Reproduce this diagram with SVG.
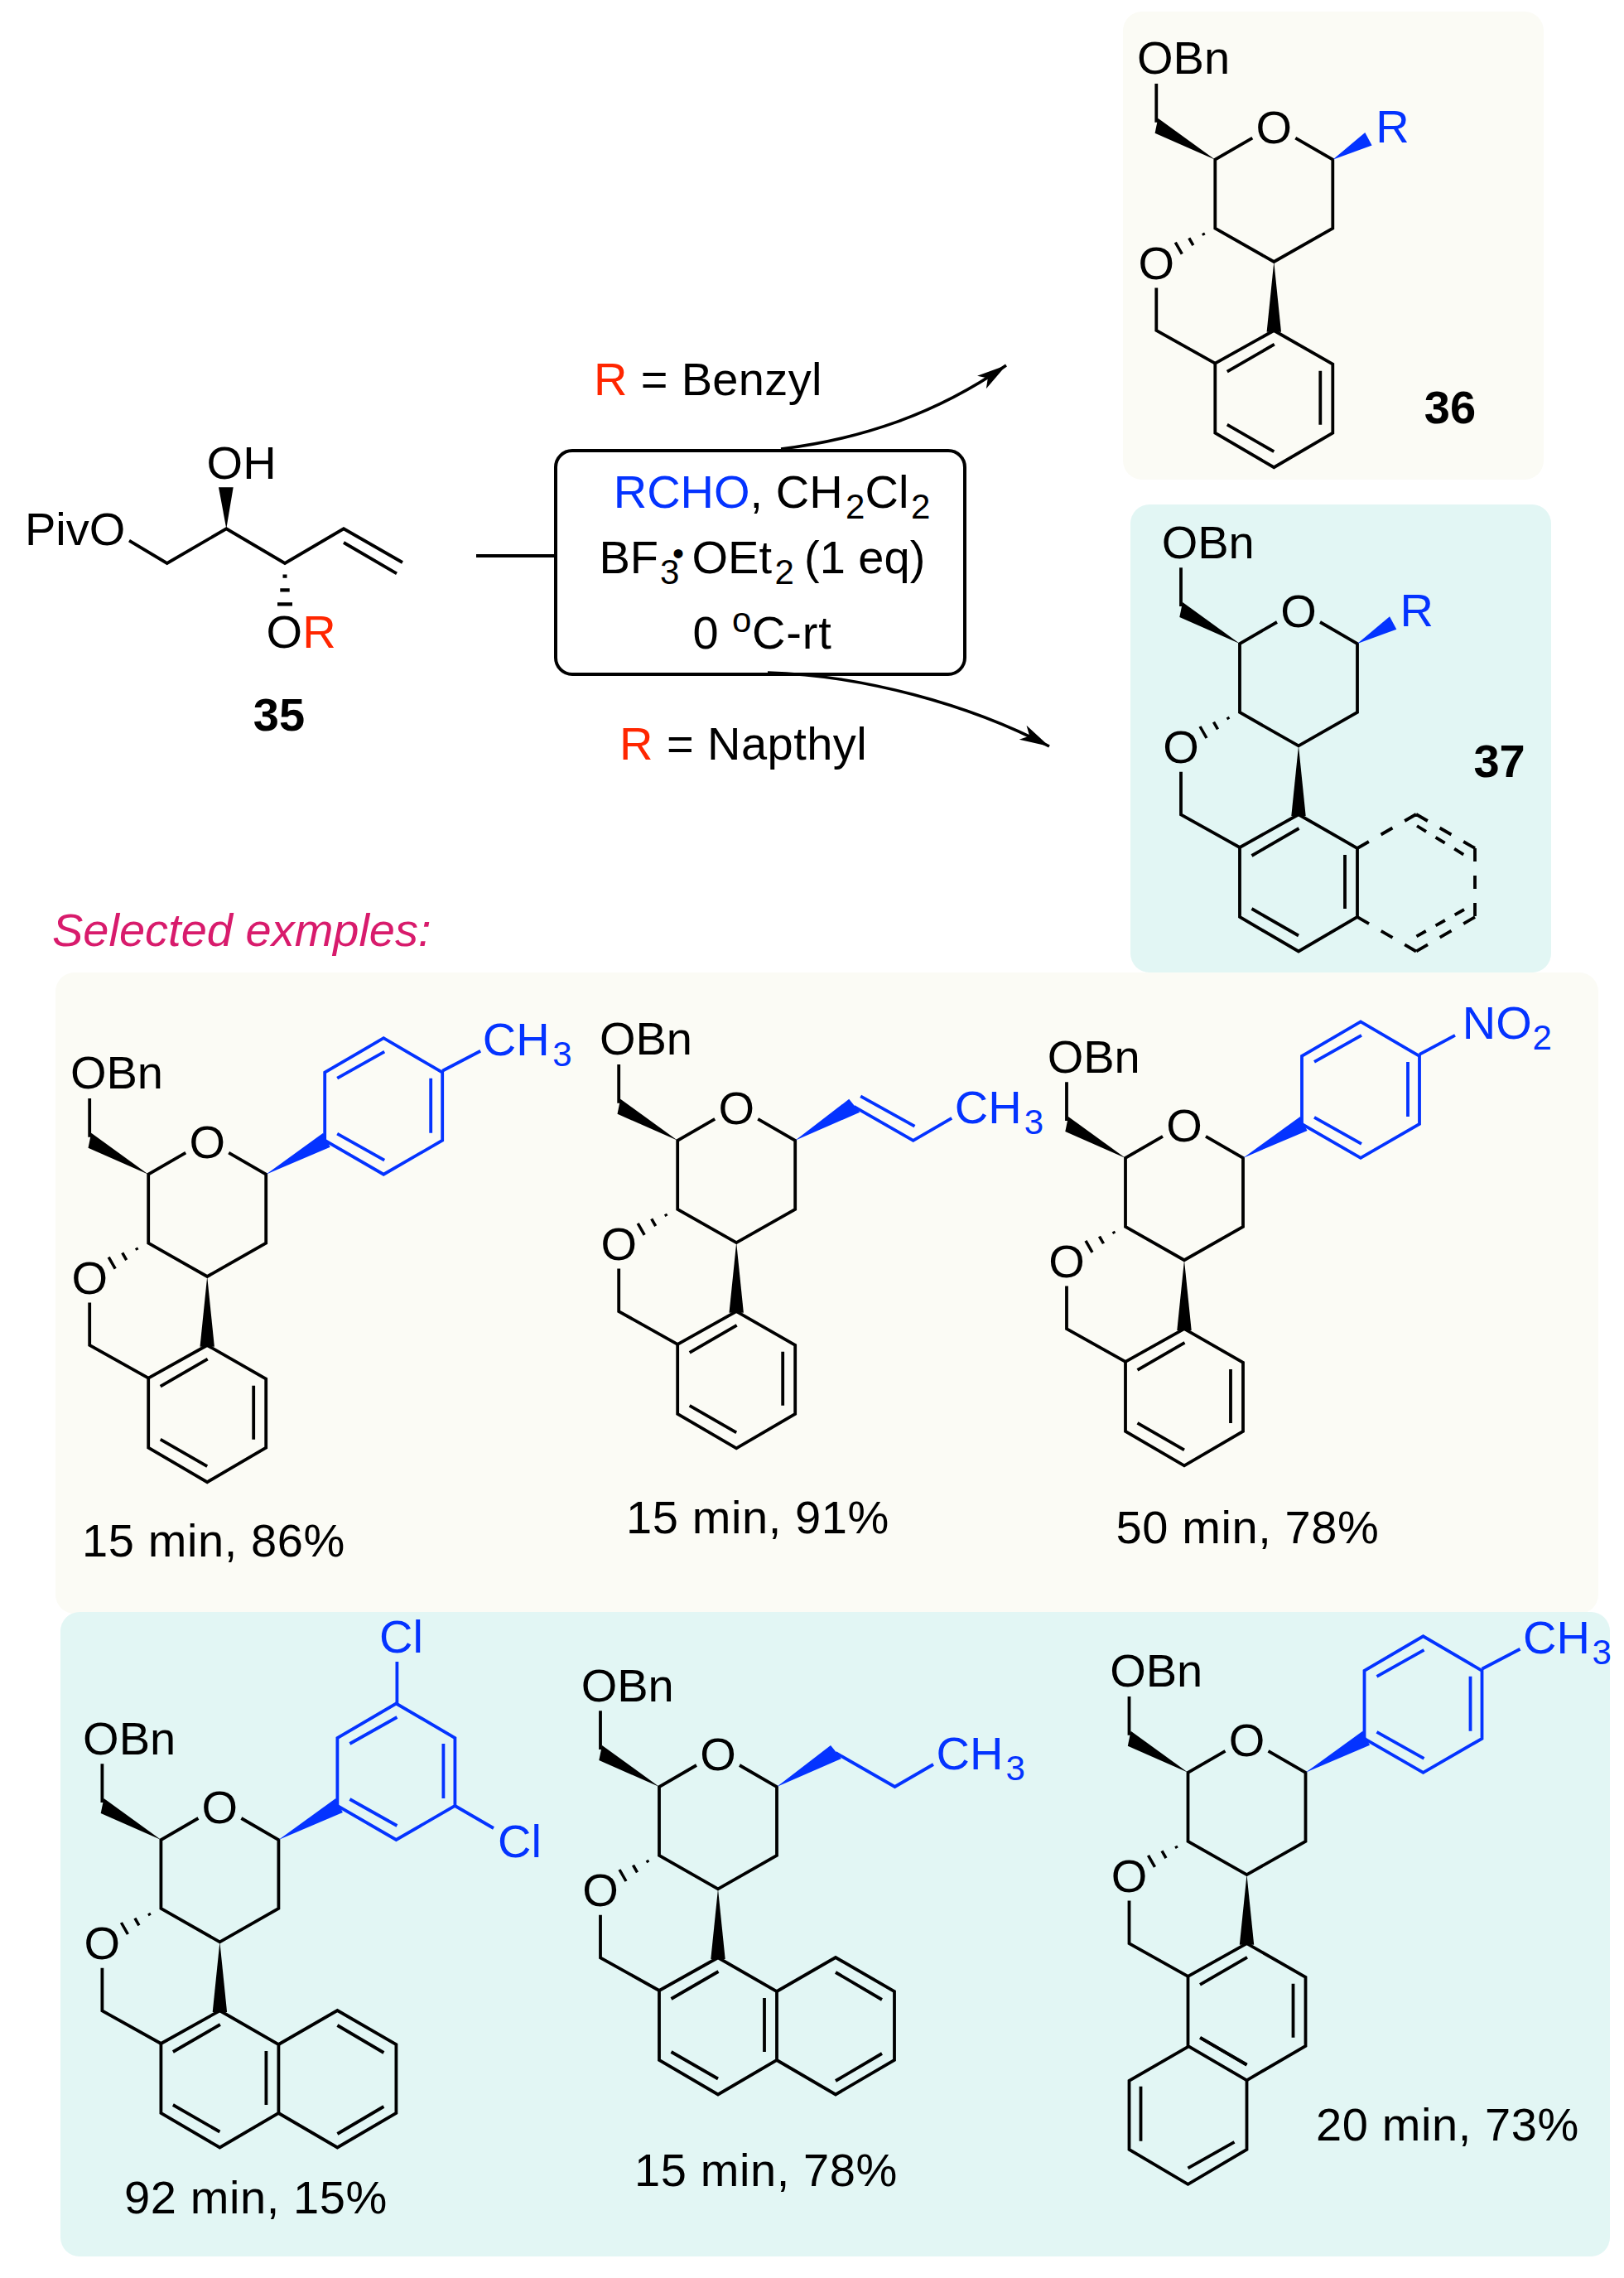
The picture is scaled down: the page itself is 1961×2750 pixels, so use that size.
<svg xmlns="http://www.w3.org/2000/svg" xmlns:xlink="http://www.w3.org/1999/xlink" width="1961" height="2750" viewBox="0 0 1961 2750">
<style>
text{font-family:"Liberation Sans",Arial,sans-serif;font-size:56px;fill:#000}
.b{font-weight:bold}
.sub{font-size:42px}
.blue,text.blue,tspan.blue{fill:#0433ff}
.red{fill:#ff2600}
.m{text-anchor:middle}
.ls{letter-spacing:.6px}
.bond{fill:none;stroke:#000;stroke-width:3.8;stroke-linejoin:miter;stroke-linecap:butt}
.bbond{fill:none;stroke:#0433ff;stroke-width:3.8;stroke-linejoin:miter}
.hash{fill:none;stroke:#000;stroke-width:3.5}
.wk{fill:#000;stroke:none}
.wb{fill:#0433ff;stroke:none}
.cy{fill:#fbfbf5}
.cb{fill:#e2f6f4}
.dash{fill:none;stroke:#000;stroke-width:3.8;stroke-dasharray:16 17}
.dash2{fill:none;stroke:#000;stroke-width:3.8;stroke-dasharray:13 13.5}
.arrow{fill:none;stroke:#000;stroke-width:3.5;marker-end:url(#head)}
</style>
<defs>
<marker id="head" markerUnits="userSpaceOnUse" markerWidth="40" markerHeight="24" refX="36" refY="10" orient="auto" overflow="visible"><path d="M36,10 L0,0.5 L9,10 L0,19.5 Z" fill="#000"/></marker>
<g id="core">
<path class="bond" d="M45,-26 L0,0 V83 L71,123.3 L142,83 V0 L97,-26 M-71,-45 V-91.7 M-71,154.7 V206.3 L0,246"/>
<path class="bond" d="M0,246 L71,206.3 L142,247 V330 L71,371.5 L0,330 Z M14.5,256 L71.5,223 M127,255 V320 M14.5,320 L71,352.5"/>
<polygon class="wk" points="0,0 -69,-50 -72.7,-32"/>
<polygon class="wk" points="71,123.3 62.3,208 79.7,208"/>
<path class="hash" d="M-14.75,88.7 L-13.25,91.3 M-31.5,94.65 L-26.5,103.35 M-48,100 L-40,114"/>
</g>
<g id="aryl">
<path class="bbond" d="M213,-41 V-123 L284,-164.5 L355,-123 V-41 L284,0 Z M228,-116 L285,-148 M341,-116 V-50 M228,-49 L285,-17"/>
<polygon class="wb" points="142,0 211,-50 219.5,-33"/>
</g>
<path id="naph" class="bond" d="M142,247 L213,206 L284,247 V330 L213,371.5 L142,330 M213,224 L269,257 M269,322 L213,355"/>
<g id="chain">
<path class="bbond" d="M213,-41 L284.5,0 L331,-27"/>
<polygon class="wb" points="142,0 207,-50 220,-34"/>
</g>
</defs>

<g id="cards">
<rect class="cy" x="1356" y="14" width="508" height="565" rx="23"/>
<rect class="cb" x="1365" y="609" width="508" height="565" rx="23"/>
<rect class="cy" x="67" y="1174" width="1878" height="774" rx="23" style="width:1863px"/>
<rect class="cb" x="73" y="1946" width="1871" height="778" rx="23"/>
</g>

<g id="connectors">
<line class="bond" x1="575" y1="671" x2="671" y2="671"/>
<path class="arrow" d="M943,542 C1040,530 1130,500 1215,441"/>
<path class="arrow" d="M927,812 C1040,815 1170,850 1267,901"/>
</g>

<g id="compound-35">
<path class="bond" d="M156,652.7 L201.7,680 L273.3,638.3 L344,680 L415,638.3 L486,679 M415,655 L479,692.3"/>
<polygon class="wk" points="273.3,638.3 264,588.3 281.7,588.3"/>
<path class="bond" style="stroke-width:4.3" d="M341.5,695.7 H346.5 M338.3,712.3 H349.7 M335,729.3 H353"/>
<text x="30" y="658.3">PivO</text>
<text x="249.6" y="577.7">OH</text>
<text x="321.6" y="781.7">O<tspan class="red">R</tspan></text>
<text class="b m" x="337" y="881.7">35</text>
</g>

<g id="reagents">
<rect x="671" y="544" width="494" height="270" rx="20" fill="none" stroke="#000" stroke-width="4"/>
<text x="717" y="476.7" style="letter-spacing:.35px"><tspan class="red">R</tspan> = Benzyl</text>
<text x="748" y="917" style="letter-spacing:.45px"><tspan class="red">R</tspan> = Napthyl</text>
<text x="740.7" y="613.3"><tspan class="blue">RCHO</tspan>, CH<tspan class="sub" x="1021" dy="13">2</tspan><tspan x="1044.5" dy="-13">Cl</tspan><tspan class="sub" x="1100" dy="13">2</tspan></text>
<text x="723.5" y="691.7">BF<tspan class="sub" x="797" dy="13">3</tspan><tspan x="812" dy="-22.7" style="font-size:40px">•</tspan><tspan x="835.5" dy="9.7">OEt</tspan><tspan class="sub" x="935.5" dy="13">2</tspan><tspan x="971" dy="-13">(1 eq)</tspan></text>
<text x="836.5" y="783.3">0<tspan class="sub" x="884" dy="-20">o</tspan><tspan x="908" dy="20" style="letter-spacing:.8px">C-rt</tspan></text>
</g>

<g id="compound-36" transform="translate(1467.3,192.7)">
<use href="#core" xlink:href="#core"/>
<polygon class="wb" points="142,0 181,-32.7 189.3,-17.3"/>
<text x="-94.3" y="-103.4">OBn</text>
<text class="m" x="71" y="-20">O</text>
<text class="m" x="-71" y="144">O</text>
<text class="blue" x="194" y="-21">R</text>
<text class="b m" x="283.7" y="318">36</text>
</g>

<g id="compound-37" transform="translate(1497,777)">
<use href="#core" xlink:href="#core"/>
<polygon class="wb" points="142,0 181,-32.7 189.3,-17.3"/>
<path class="dash" d="M142,247 L213,206 M213,206 L284,247 M284,247 V330 M284,330 L213,371.5 M213,371.5 L142,330"/>
<path class="dash2" d="M214,220 L271,255 M271,321 L213,353.6"/>
<text x="-94.3" y="-103.4">OBn</text>
<text class="m" x="71" y="-20">O</text>
<text class="m" x="-71" y="144">O</text>
<text class="blue" x="193.4" y="-21">R</text>
<text class="b m" x="313.6" y="161">37</text>
</g>

<g id="selected-label">
<text x="63" y="1142" style="font-style:italic;fill:#d81b6c">Selected exmples:</text>
</g>

<g id="example-1">
<g transform="translate(179.2,1417.7)">
<use href="#core" xlink:href="#core"/>
<use href="#aryl" xlink:href="#aryl"/>
<path class="bbond" d="M355,-125 L401,-149"/>
<text x="-94.3" y="-103.4">OBn</text>
<text class="m" x="71" y="-20">O</text>
<text class="m" x="-71" y="144">O</text>
<text class="blue" x="403.5" y="-144">CH<tspan class="sub" x="488" dy="13">3</tspan></text>
</g>
<text class="ls" x="99" y="1878.7">15 min, 86%</text>
</g>

<g id="example-2">
<g transform="translate(818.2,1376.8)">
<use href="#core" xlink:href="#core"/>
<use href="#chain" xlink:href="#chain"/>
<path class="bbond" d="M221,-53.5 L286.3,-17.2"/>
<text x="-94.3" y="-103.4">OBn</text>
<text class="m" x="71" y="-20">O</text>
<text class="m" x="-71" y="144">O</text>
<text class="blue" x="334.5" y="-21">CH<tspan class="sub" x="418.5" dy="13">3</tspan></text>
</g>
<text class="ls" x="756" y="1850.7">15 min, 91%</text>
</g>

<g id="example-3">
<g transform="translate(1359,1397.9)">
<use href="#core" xlink:href="#core"/>
<use href="#aryl" xlink:href="#aryl"/>
<path class="bbond" d="M355,-125 L398,-148"/>
<text x="-94.3" y="-103.4">OBn</text>
<text class="m" x="71" y="-20">O</text>
<text class="m" x="-71" y="144">O</text>
<text class="blue" x="406.7" y="-143.5">NO<tspan class="sub" x="491.5" dy="13">2</tspan></text>
</g>
<text class="ls" x="1347.5" y="1862.8">50 min, 78%</text>
</g>

<g id="example-4">
<g transform="translate(194.4,2221)">
<use href="#core" xlink:href="#core"/>
<use href="#naph" xlink:href="#naph"/>
<use href="#aryl" xlink:href="#aryl"/>
<path class="bbond" d="M285,-164 V-215 M355,-41 L401.6,-14"/>
<text x="-94.3" y="-103.4">OBn</text>
<text class="m" x="71" y="-20">O</text>
<text class="m" x="-71" y="144">O</text>
<text class="blue" x="263.6" y="-226">Cl</text>
<text class="blue" x="406.6" y="20.8">Cl</text>
</g>
<text class="ls" x="150" y="2672">92 min, 15%</text>
</g>

<g id="example-5">
<g transform="translate(796,2157)">
<use href="#core" xlink:href="#core"/>
<use href="#naph" xlink:href="#naph"/>
<use href="#chain" xlink:href="#chain"/>
<text x="-94.3" y="-103.4">OBn</text>
<text class="m" x="71" y="-20">O</text>
<text class="m" x="-71" y="144">O</text>
<text class="blue" x="334.5" y="-21">CH<tspan class="sub" x="418.5" dy="13">3</tspan></text>
</g>
<text class="ls" x="766" y="2639">15 min, 78%</text>
</g>

<g id="example-6">
<g transform="translate(1434.5,2139.8)">
<use href="#core" xlink:href="#core"/>
<path class="bond" d="M0,331 L-71,372 V455 L0,497 L71,455 V372 M0,477.6 L56,446 M-57,379 V445 M15,320 L71,353"/>
<use href="#aryl" xlink:href="#aryl"/>
<path class="bbond" d="M355,-125 L401,-149"/>
<text x="-94.3" y="-103.4">OBn</text>
<text class="m" x="71" y="-20">O</text>
<text class="m" x="-71" y="144">O</text>
<text class="blue" x="404.5" y="-144">CH<tspan class="sub" x="488" dy="13">3</tspan></text>
</g>
<text class="ls" x="1589" y="2584">20 min, 73%</text>
</g>
</svg>
